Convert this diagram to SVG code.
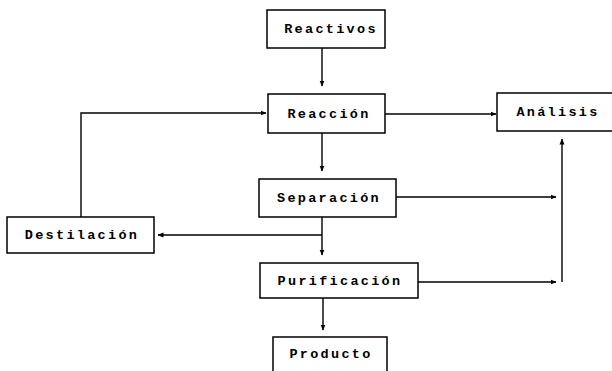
<svg xmlns="http://www.w3.org/2000/svg" width="612" height="371" viewBox="0 0 612 371">
<defs>
<style>
.box{fill:#fff;stroke:#000;stroke-width:1.5}
.lbl{font-family:"Liberation Mono",monospace;font-weight:bold;font-size:13.5px;letter-spacing:2.3px;fill:#000;text-anchor:middle;dominant-baseline:central}
.ln{fill:none;stroke:#000;stroke-width:1.4}
</style>
<marker id="ah" viewBox="0 0 6 6" refX="5.5" refY="3" markerWidth="6" markerHeight="6" markerUnits="userSpaceOnUse" orient="auto">
<path d="M0,0.5 L6,3 L0,5.5 Z" fill="#000"/>
</marker>
</defs>
<rect width="612" height="371" fill="#fff"/>
<g id="connectors">
<line class="ln" x1="322" y1="48" x2="322" y2="86" marker-end="url(#ah)"/>
<line class="ln" x1="385" y1="114" x2="496" y2="114" marker-end="url(#ah)"/>
<line class="ln" x1="322" y1="133" x2="322" y2="171" marker-end="url(#ah)"/>
<line class="ln" x1="322" y1="217" x2="322" y2="255" marker-end="url(#ah)"/>
<line class="ln" x1="322" y1="235" x2="158" y2="235" marker-end="url(#ah)"/>
<line class="ln" x1="396" y1="197" x2="556" y2="197" marker-end="url(#ah)"/>
<line class="ln" x1="418" y1="282" x2="556" y2="282" marker-end="url(#ah)"/>
<line class="ln" x1="562" y1="282" x2="562" y2="139" marker-end="url(#ah)"/>
<line class="ln" x1="323" y1="298" x2="323" y2="330" marker-end="url(#ah)"/>
<polyline class="ln" points="81,217 81,113 266,113" marker-end="url(#ah)"/>
</g>
<g id="reactivos">
<rect class="box" x="267" y="10" width="118" height="38"/>
<text class="lbl" x="331" y="29">Reactivos</text>
</g>
<g id="reaccion">
<rect class="box" x="268" y="94" width="117" height="39"/>
<text class="lbl" x="329" y="114">Reacción</text>
</g>
<g id="analisis">
<rect class="box" x="497" y="93" width="118" height="38"/>
<text class="lbl" x="558" y="112">Análisis</text>
</g>
<g id="separacion">
<rect class="box" x="259" y="179" width="137" height="38"/>
<text class="lbl" x="329" y="198">Separación</text>
</g>
<g id="destilacion">
<rect class="box" x="7" y="217" width="147" height="36"/>
<text class="lbl" x="82" y="235">Destilación</text>
</g>
<g id="purificacion">
<rect class="box" x="260" y="263" width="158" height="35"/>
<text class="lbl" x="340" y="281">Purificación</text>
</g>
<g id="producto">
<rect class="box" x="273" y="337" width="114" height="40"/>
<text class="lbl" x="331" y="354">Producto</text>
</g>
</svg>
